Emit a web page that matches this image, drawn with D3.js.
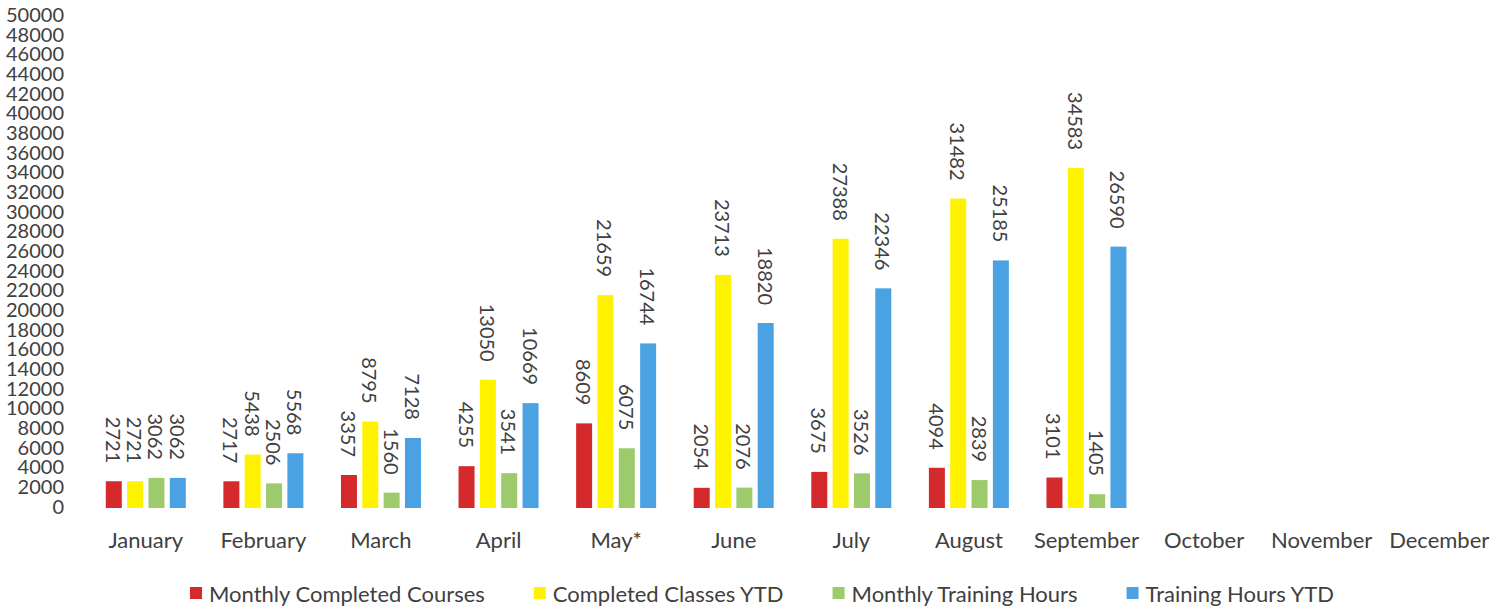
<!DOCTYPE html>
<html lang="en">
<head>
<meta charset="utf-8">
<script src="https://d3js.org/d3.v7.min.js"></script>
<style>
    body { margin: 0; background: #fff; }
    text { font-family: Lato, "Open Sans", sans-serif; fill: #404040; }
</style>
</head>
<body>
<svg width="1507" height="609"></svg>
<script>

    // data
    var months = ["January", "February", "March", "April", "May*", "June", "July",
                  "August", "September", "October", "November", "December"];
    var seriesNames = ["Monthly Completed Courses", "Completed Classes YTD",
                       "Monthly Training Hours", "Training Hours YTD"];
    var monthlyCourses = [2721, 2717, 3357, 4255, 8609, 2054, 3675, 4094, 3101];
    var classesYTD     = [2721, 5438, 8795, 13050, 21659, 23713, 27388, 31482, 34583];
    var monthlyHours   = [3062, 2506, 1560, 3541, 6075, 2076, 3526, 2839, 1405];
    var hoursYTD       = [3062, 5568, 7128, 10669, 16744, 18820, 22346, 25185, 26590];
    var yTicks = d3.range(0, 50001, 2000);

    var colors = ["#d42a2c", "#fff200", "#9dcb6b", "#4ba2e3"];
    var allSeries = [monthlyCourses, classesYTD, monthlyHours, hoursYTD];

    var svg = d3.select("svg");

    // scales
    var x = d3.scaleBand().domain(months).range([87, 1498]);
    var xs = d3.scaleBand().domain(seriesNames).range([-40, 40]).paddingInner(0.25);
    var y = d3.scaleLinear().domain([0, 50000]).range([508, 16.5]);
    var color = d3.scaleOrdinal().domain(seriesNames).range(colors);

    // y axis labels only (no line, no ticks)
    var yAxis = svg.append("g")
        .attr("transform", "translate(64,0)")
        .call(d3.axisLeft(y).tickValues(yTicks).tickFormat(d3.format("d")).tickSize(0).tickPadding(0));
    yAxis.select(".domain").remove();
    yAxis.selectAll("text")
        .attr("dy", null)
        .attr("y", -3)
        .attr("dominant-baseline", "central")
        .style("font-family", "Lato, sans-serif")
        .style("font-size", "20px")
        .attr("fill", "#404040");

    // x axis labels
    var xAxis = svg.append("g")
        .attr("transform", "translate(0,548)")
        .call(d3.axisBottom(x).tickSize(0).tickPadding(0));
    xAxis.select(".domain").remove();
    xAxis.selectAll("text")
        .attr("dy", null)
        .attr("y", 0)
        .style("font-family", "Lato, sans-serif")
        .style("font-size", "22px")
        .attr("fill", "#404040");

    // flat rows for the bars
    var rows = [];
    allSeries.forEach(function (vals, s) {
        vals.forEach(function (v, i) {
            rows.push({month: months[i], series: seriesNames[s], value: v});
        });
    });

    svg.append("g").selectAll("rect").data(rows).enter().append("rect")
        .attr("x", function (d) { return x(d.month) + x.bandwidth() / 2 + xs(d.series); })
        .attr("y", function (d) { return y(d.value); })
        .attr("width", xs.bandwidth())
        .attr("height", function (d) { return y(0) - y(d.value); })
        .attr("fill", function (d) { return color(d.series); });

    // value labels, turned 90 degrees, reading downwards
    svg.append("g").selectAll("text").data(rows).enter().append("text")
        .attr("transform", function (d) {
            var cx = x(d.month) + x.bandwidth() / 2 + xs(d.series) + xs.bandwidth() / 2;
            return "translate(" + cx + "," + (y(d.value) - 18) + ") rotate(90)";
        })
        .attr("text-anchor", "end")
        .attr("dominant-baseline", "central")
        .style("font-size", "20px")
        .text(function (d) { return d.value; });

    // legend
    var legend = svg.append("g").attr("transform", "translate(190,593)");
    var lx = 0;
    seriesNames.forEach(function (name) {
        var item = legend.append("g").attr("transform", "translate(" + lx + ",0)");
        item.append("rect")
            .attr("x", 0).attr("y", -6)
            .attr("width", 12).attr("height", 12)
            .attr("fill", color(name));
        var t = item.append("text")
            .attr("x", 19)
            .attr("dominant-baseline", "central")
            .style("font-size", "22px")
            .text(name);
        lx += 19 + t.node().getComputedTextLength() + 49;
    });

</script>
</body>
</html>
